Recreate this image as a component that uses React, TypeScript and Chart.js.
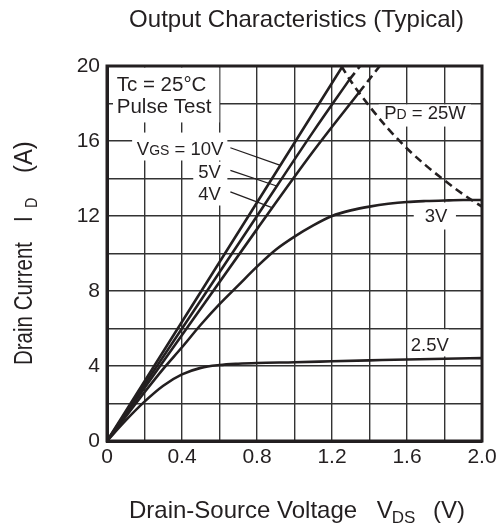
import React, { useEffect, useRef } from "react";
import { Chart, registerables } from "chart.js";

Chart.register(...registerables);

// ---- tick labels ----
const xTickLabels = ["0", "0.4", "0.8", "1.2", "1.6", "2.0"];
const yTickLabels = ["0", "4", "8", "12", "16", "20"];

// ---- series (VDS in V, ID in A) ----
const vgs10V_x = [0, 0.4, 0.8, 1.257];
const vgs10V_y = [0, 6.36, 12.72, 20];

const vgs5V_x = [0, 0.4, 0.8, 1.1, 1.295];
const vgs5V_y = [0, 6.0, 12.0, 16.5, 19.3];
const vgs5Vext_x = [1.295, 1.35];
const vgs5Vext_y = [19.3, 20];

const vgs4V_x = [0, 0.4, 0.8, 1.1, 1.345];
const vgs4V_y = [0, 5.65, 11.3, 15.45, 18.6];
const vgs4Vext_x = [1.345, 1.455];
const vgs4Vext_y = [18.6, 20];

const vgs3V_x = [0, 0.1, 0.2, 0.3, 0.4, 0.5, 0.6, 0.7, 0.8, 0.9, 1.0, 1.1, 1.2, 1.3, 1.4, 1.5, 1.6, 1.7, 1.8, 1.9, 2.0];
const vgs3V_y = [0, 1.3, 2.6, 3.85, 5.0, 6.2, 7.3, 8.3, 9.3, 10.2, 10.9, 11.5, 12.0, 12.3, 12.5, 12.65, 12.75, 12.8, 12.83, 12.85, 12.85];

const vgs25V_x = [0, 0.1, 0.2, 0.3, 0.4, 0.5, 0.6, 0.7, 0.8, 1.0, 1.2, 1.4, 1.6, 1.8, 2.0];
const vgs25V_y = [0, 1.1, 2.1, 2.95, 3.55, 3.9, 4.05, 4.12, 4.16, 4.2, 4.25, 4.3, 4.35, 4.39, 4.42];

const pd25W_x = [1.25, 1.3, 1.4, 1.5, 1.6, 1.7, 1.8, 1.9, 2.0];
const pd25W_y = [20, 19.2, 17.85, 16.65, 15.6, 14.7, 13.9, 13.15, 12.5];

const INK = "#231f20";
const GRID = "#333333";
const FONT = "'Liberation Sans', Arial, sans-serif";

const pts = (xs: number[], ys: number[]) => xs.map((x, i) => ({ x, y: ys[i] }));

const overlayPlugin = {
  id: "overlay",
  beforeDatasetsDraw(chart: any) {
    const { ctx } = chart;
    const xs = chart.scales.x;
    const ys = chart.scales.y;
    const px = (v: number) => xs.getPixelForValue(v);
    const py = (v: number) => ys.getPixelForValue(v);
    ctx.save();
    // white boxes behind labels (hide the grid)
    ctx.fillStyle = "#ffffff";
    const box = (x0: number, y0: number, x1: number, y1: number) => {
      ctx.fillRect(px(x0), py(y0), px(x1) - px(x0), py(y1) - py(y0));
    };
    box(0.032, 19.92, 0.599, 16.99);
    box(0.134, 16.45, 0.642, 14.96);
    box(0.46, 14.9, 0.642, 12.56);
    box(1.449, 17.95, 1.941, 16.77);
    box(1.636, 12.72, 1.861, 11.28);
    box(1.604, 5.95, 1.823, 4.51);

    ctx.fillStyle = INK;
    ctx.textBaseline = "alphabetic";
    ctx.textAlign = "left";
    ctx.font = `20.5px ${FONT}`;
    ctx.fillText("Tc = 25°C", px(0.052), py(18.66));
    ctx.fillText("Pulse Test", px(0.052), py(17.5));

    const big = `18.5px ${FONT}`;
    const small = `14px ${FONT}`;
    // VGS = 10V
    let x = px(0.159);
    let y = py(15.28);
    ctx.font = big;
    ctx.fillText("V", x, y);
    x += ctx.measureText("V").width;
    ctx.font = small;
    ctx.fillText("GS", x, y);
    x += ctx.measureText("GS").width;
    ctx.font = big;
    ctx.fillText(" = 10V", x, y);

    ctx.fillText("5V", px(0.487), py(14.05));
    ctx.fillText("4V", px(0.487), py(12.88));

    // PD = 25W
    x = px(1.478);
    y = py(17.15);
    ctx.fillText("P", x, y);
    x += ctx.measureText("P").width;
    ctx.font = small;
    ctx.fillText("D", x, y);
    x += ctx.measureText("D").width;
    ctx.font = big;
    ctx.fillText(" = 25W", x, y);

    ctx.fillText("3V", px(1.695), py(11.67));
    ctx.fillText("2.5V", px(1.62), py(4.79));

    // leader lines
    ctx.strokeStyle = INK;
    ctx.lineWidth = 1.3;
    const lead = (a: number, b: number, c: number, d: number) => {
      ctx.beginPath();
      ctx.moveTo(px(a), py(b));
      ctx.lineTo(px(c), py(d));
      ctx.stroke();
    };
    lead(0.658, 15.64, 0.925, 14.7);
    lead(0.658, 14.43, 0.905, 13.6);
    lead(0.658, 13.29, 0.88, 12.45);
    ctx.restore();
  },
  afterDatasetsDraw(chart: any) {
    const { ctx, chartArea } = chart;
    ctx.save();
    ctx.strokeStyle = INK;
    ctx.lineWidth = 3;
    ctx.strokeRect(chartArea.left, chartArea.top, chartArea.right - chartArea.left, chartArea.bottom - chartArea.top);
    ctx.restore();
  },
  afterDraw(chart: any) {
    const { ctx } = chart;
    ctx.save();
    ctx.fillStyle = INK;
    ctx.textBaseline = "alphabetic";
    // title
    ctx.font = `24px ${FONT}`;
    ctx.textAlign = "center";
    ctx.fillText("Output Characteristics (Typical)", 296.5, 27.3);
    // x title
    ctx.textAlign = "left";
    ctx.fillText("Drain-Source Voltage", 129, 518.3);
    ctx.fillText("V", 376.7, 518.3);
    ctx.fillText("(V)", 433, 518.3);
    ctx.font = `17px ${FONT}`;
    ctx.fillText("DS", 391.7, 522.7);
    // y title (rotated)
    const rot = (text: string, bx: number, startY: number, font: string, sx: number) => {
      ctx.save();
      ctx.font = font;
      ctx.translate(bx, startY);
      ctx.rotate(-Math.PI / 2);
      ctx.scale(sx, 1);
      ctx.fillText(text, 0, 0);
      ctx.restore();
    };
    ctx.font = `25px ${FONT}`;
    const w = ctx.measureText("Drain Current").width;
    const sx = 123 / w;
    rot("Drain Current", 32.3, 365, `25px ${FONT}`, sx);
    rot("I", 32.3, 222, `25px ${FONT}`, sx);
    rot("D", 36.5, 208, `16px ${FONT}`, 0.9);
    rot("(A)", 32.3, 173, `25px ${FONT}`, 0.95);
    ctx.restore();
  },
};

export default function App() {
  const ref = useRef<HTMLCanvasElement | null>(null);
  useEffect(() => {
    if (!ref.current) return;
    const solid = (xs: number[], ys: number[]) => ({
      data: pts(xs, ys),
      showLine: true,
      borderColor: INK,
      borderWidth: 2.6,
      pointRadius: 0,
      cubicInterpolationMode: "monotone" as const,
      fill: false,
    });
    const dashed = (xs: number[], ys: number[]) => ({
      ...solid(xs, ys),
      borderDash: [8, 5],
    });
    const chart = new Chart(ref.current, {
      type: "scatter",
      data: {
        datasets: [
          solid(vgs10V_x, vgs10V_y),
          solid(vgs5V_x, vgs5V_y),
          dashed(vgs5Vext_x, vgs5Vext_y),
          solid(vgs4V_x, vgs4V_y),
          dashed(vgs4Vext_x, vgs4Vext_y),
          solid(vgs3V_x, vgs3V_y),
          solid(vgs25V_x, vgs25V_y),
          dashed(pd25W_x, pd25W_y),
        ] as any,
      },
      options: {
        responsive: false,
        animation: false,
        devicePixelRatio: 1,
        layout: { padding: { top: 66, right: 20, left: 0, bottom: 0 } },
        plugins: {
          legend: { display: false },
          tooltip: { enabled: false },
          title: { display: false },
        },
        scales: {
          x: {
            type: "linear",
            min: 0,
            max: 2,
            afterFit: (s: any) => {
              s.height = 85;
            },
            ticks: {
              stepSize: 0.2,
              autoSkip: false,
              maxRotation: 0,
              padding: 4,
              color: INK,
              font: { family: FONT, size: 21 },
              callback: (v: any) => {
                const k = Math.round(Number(v) * 10);
                return k % 4 === 0 ? xTickLabels[k / 4] : "";
              },
            },
            grid: { color: GRID, lineWidth: 1.4, drawTicks: false },
            border: { display: true, color: INK, width: 3 },
          },
          y: {
            type: "linear",
            min: 0,
            max: 20,
            afterFit: (s: any) => {
              s.width = 107;
            },
            ticks: {
              stepSize: 2,
              autoSkip: false,
              padding: 7,
              color: INK,
              font: { family: FONT, size: 21 },
              callback: (v: any) => {
                const k = Math.round(Number(v));
                return k % 4 === 0 ? yTickLabels[k / 4] : "";
              },
            },
            grid: { color: GRID, lineWidth: 1.4, drawTicks: false },
            border: { display: true, color: INK, width: 3 },
          },
        },
      } as any,
      plugins: [overlayPlugin],
    });
    return () => chart.destroy();
  }, []);
  return (
    <div style={{ position: "fixed", left: 0, top: 0, width: 502, height: 526, background: "#fff" }}>
      <canvas ref={ref} width={502} height={526} style={{ width: 502, height: 526, display: "block" }} />
    </div>
  );
}
